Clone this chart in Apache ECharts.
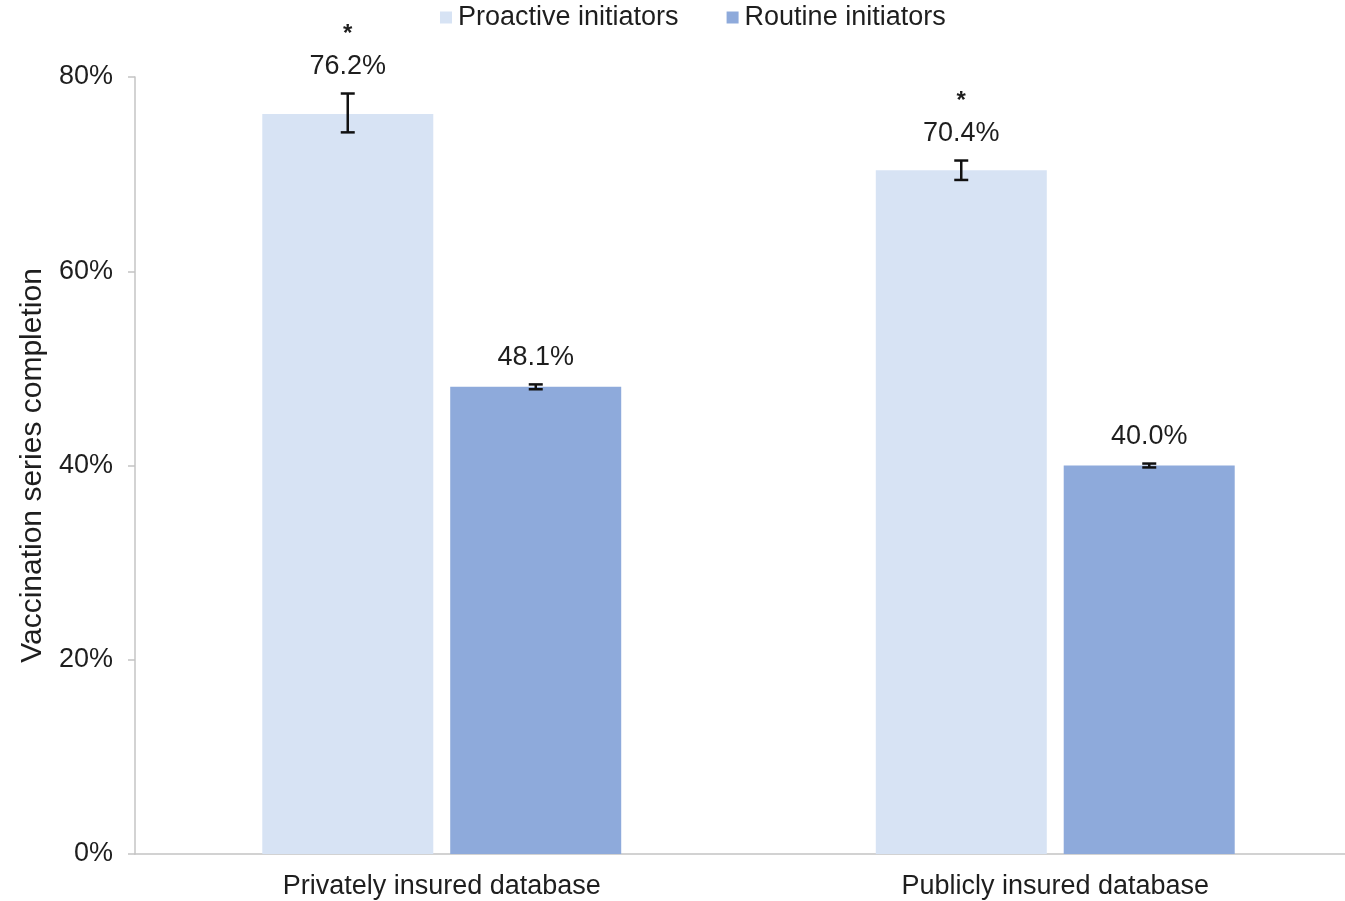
<!DOCTYPE html>
<html>
<head>
<meta charset="utf-8">
<script src="https://cdn.jsdelivr.net/npm/echarts@6/dist/echarts.min.js"></script>
<style>
html,body{margin:0;padding:0;background:#fff;overflow:hidden;}
#chart{width:1362px;height:901px;}
</style>
</head>
<body>
<div id="chart"></div>
<script>
const categories = ['Privately insured database', 'Publicly insured database'];
const seriesNames = ['Proactive initiators', 'Routine initiators'];
const proactive = [76.2, 70.4];
const routine = [48.1, 40.0];
const proactiveLow = [74.3, 69.4];
const proactiveHigh = [78.3, 71.4];
const routineLow = [47.85, 39.8];
const routineHigh = [48.35, 40.2];
const significant = [true, true];
const yTicks = [0, 20, 40, 60, 80];

const FONT = '"Liberation Sans", Arial, sans-serif';
const TXT = '#1e1e1e';
const FS = 27;
const BAR_W = 171;
const GAP = 17;
const OFF = (BAR_W + GAP) / 2;

function errData(vals, lows, highs) {
  return vals.map((v, i) => [i, v, lows[i], highs[i], significant[i] ? 1 : 0]);
}

function errRender(offset, showStar) {
  return function (params, api) {
    const ci = api.value(0);
    const v = api.value(1);
    const lo = api.value(2);
    const hi = api.value(3);
    const star = api.value(4);
    const pLo = api.coord([ci, lo]);
    const pHi = api.coord([ci, hi]);
    const x = pLo[0] + offset;
    const cap = 7;
    const lineStyle = { stroke: '#111', lineWidth: 2.5 };
    const children = [
      { type: 'line', shape: { x1: x, y1: pLo[1], x2: x, y2: pHi[1] }, style: lineStyle },
      { type: 'line', shape: { x1: x - cap, y1: pLo[1], x2: x + cap, y2: pLo[1] }, style: lineStyle },
      { type: 'line', shape: { x1: x - cap, y1: pHi[1], x2: x + cap, y2: pHi[1] }, style: lineStyle },
      { type: 'text', style: { x: x, y: pHi[1] - 27, text: v.toFixed(1) + '%', textAlign: 'center', textVerticalAlign: 'middle', font: FS + 'px ' + FONT, fill: TXT } }
    ];
    if (showStar && star) {
      children.push({ type: 'text', style: { x: x, y: pHi[1] - 59, text: '*', textAlign: 'center', textVerticalAlign: 'middle', font: 'bold 24px ' + FONT, fill: TXT } });
    }
    return { type: 'group', children: children };
  };
}

const chart = echarts.init(document.getElementById('chart'));
chart.setOption({
  animation: false,
  backgroundColor: '#fff',
  textStyle: { fontFamily: FONT },
  legend: {
    data: seriesNames,
    left: 440,
    top: 4,
    padding: 0,
    icon: 'rect',
    itemWidth: 12,
    itemHeight: 12,
    itemGap: 48,
    textStyle: { fontSize: FS, color: TXT, fontFamily: FONT, padding: [0, 0, 0, 1] }
  },
  grid: { left: 135, right: 0, top: 77, bottom: 47, containLabel: false },
  xAxis: {
    type: 'category',
    data: categories,
    axisLine: { lineStyle: { color: '#c4c4c4', width: 1.5 } },
    axisTick: { show: false },
    axisLabel: { fontSize: FS, color: TXT, margin: 19, fontFamily: FONT }
  },
  yAxis: {
    type: 'value',
    min: 0,
    max: 80,
    interval: 20,
    name: 'Vaccination series completion',
    nameLocation: 'middle',
    nameGap: 83,
    nameTextStyle: { fontSize: 30, color: TXT, fontFamily: FONT },
    axisLine: { show: true, lineStyle: { color: '#c4c4c4', width: 1.5 } },
    axisTick: { show: true, length: 7, lineStyle: { color: '#c4c4c4', width: 1.5 } },
    splitLine: { show: false },
    axisLabel: { fontSize: FS, color: TXT, margin: 22, fontFamily: FONT, formatter: v => yTicks.includes(v) ? v + '%' : '' }
  },
  series: [
    { name: seriesNames[0], type: 'bar', data: proactive, barWidth: BAR_W, barGap: (GAP / BAR_W * 100).toFixed(1) + '%', itemStyle: { color: '#d7e3f4' } },
    { name: seriesNames[1], type: 'bar', data: routine, barWidth: BAR_W, itemStyle: { color: '#8eaadb' } },
    { type: 'custom', data: errData(proactive, proactiveLow, proactiveHigh), renderItem: errRender(-OFF, true), z: 10, silent: true },
    { type: 'custom', data: errData(routine, routineLow, routineHigh), renderItem: errRender(OFF, false), z: 10, silent: true }
  ]
});
</script>
</body>
</html>
